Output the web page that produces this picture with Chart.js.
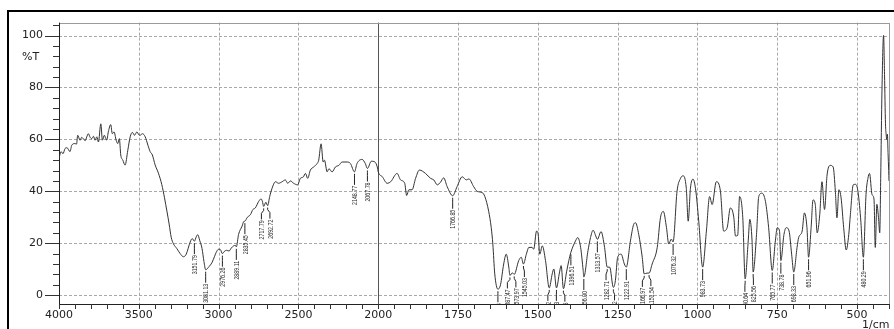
<!DOCTYPE html>
<html>
<head>
<meta charset="utf-8">
<script src="https://cdn.jsdelivr.net/npm/chart.js@4/dist/chart.umd.min.js"></script>
<style>
  html, body { margin: 0; padding: 0; background: #fff; }
  #wrap { width: 894px; height: 329px; position: relative; }
  canvas { display: block; }
</style>
</head>
<body>
<div id="wrap"><canvas id="spectrum" width="894" height="329"></canvas></div>
<script>
// IR transmittance spectrum, wavenumber in 1/cm (descending) and %T
const wavenumber = [
  4000, 3987, 3975, 3962, 3950, 3931, 3920, 3900, 3890, 3883, 3868, 3858, 3848, 3836, 3826, 3816,
  3805, 3795, 3784, 3774, 3763, 3753, 3738, 3728, 3716, 3708, 3701, 3691, 3676, 3666, 3655, 3642,
  3632, 3622, 3613, 3600, 3586, 3569, 3554, 3540, 3527, 3512, 3500, 3492, 3477, 3460, 3443, 3429,
  3415, 3398, 3377, 3356, 3339, 3324, 3310, 3297, 3283, 3261, 3241, 3220, 3203, 3178, 3165, 3151.79,
  3140, 3131, 3118, 3104, 3092, 3081.13, 3060, 3042, 3025, 3015, 3000, 2988, 2976.26, 2965, 2950, 2935,
  2920, 2906, 2895, 2889.11, 2875, 2853, 2842, 2835.45, 2820, 2801, 2785, 2770, 2749, 2734, 2726, 2717.79,
  2704, 2692.72, 2680, 2665, 2644, 2624, 2602, 2582, 2567, 2550, 2530, 2505, 2488, 2470, 2456, 2442,
  2425, 2404, 2383, 2373, 2358, 2345, 2337, 2320, 2309, 2289, 2268, 2247, 2226, 2195, 2174, 2148.77,
  2133, 2101, 2081, 2067.78, 2043, 2021, 2006, 2000, 1987, 1972, 1961, 1941, 1930, 1917, 1911, 1904,
  1894, 1883, 1871, 1852, 1836, 1826, 1815, 1805, 1795, 1784, 1766.85, 1753, 1737, 1724, 1716, 1701,
  1690, 1674, 1666, 1654, 1646, 1641, 1635, 1625.08, 1617, 1607, 1599, 1591, 1587.47, 1580, 1573.97, 1560,
  1552, 1545.03, 1536, 1528, 1518, 1513, 1504, 1499, 1494, 1486, 1476, 1464.32, 1455, 1450, 1441.73, 1432,
  1427, 1419.88, 1410, 1403, 1396.51, 1382, 1375, 1366, 1358, 1356.00, 1343, 1335, 1327, 1316, 1313.57, 1302,
  1291, 1282.71, 1275, 1263.42, 1257, 1250, 1239, 1229, 1222.91, 1210, 1200, 1194, 1184, 1173, 1166.97, 1158,
  1151.54, 1142, 1126, 1116, 1107, 1097, 1090, 1082, 1076.32, 1064, 1053, 1045, 1035, 1029, 1022, 1014,
  1006, 996, 983.73, 972, 962, 954, 941, 928, 918, 907, 897, 886, 881, 874, 868, 858,
  850.64, 841, 836, 829, 825.56, 815, 808, 798, 787, 777, 765.77, 756, 750, 743, 738.78, 729,
  722, 713, 705, 698.33, 688, 683, 672, 665, 657, 651.96, 644, 638, 631, 625, 617, 610,
  602, 594, 584, 575, 568, 563, 557, 550, 542, 534, 526, 521, 512, 505, 498, 489,
  480.29, 472, 466, 461, 453, 447, 443, 438, 433, 429, 426, 422, 417, 414, 411, 409,
  407, 405, 403, 401, 400
];
const transmittance = [
  52.6, 55.3, 54.5, 56.5, 56.8, 55.3, 57.8, 58.4, 58.2, 61.6, 59.7, 60.8, 60.3, 59.5, 61.0, 62.2,
  60.8, 60.3, 61.2, 59.7, 61.0, 59.0, 66.0, 59.7, 61.6, 60.5, 59.7, 62.9, 65.7, 62.2, 62.9, 59.7,
  58.4, 60.3, 54.0, 52.0, 50.1, 55.8, 61.0, 62.7, 61.6, 62.9, 61.8, 61.6, 62.2, 61.0, 57.8, 55.3,
  54.0, 50.2, 47.0, 42.6, 37.5, 32.4, 27.4, 22.3, 19.8, 17.9, 16.0, 14.8, 15.8, 20.5, 21.8, 20.8,
  22.5, 23.3, 21.0, 18.0, 13.0, 9.8, 11.0, 12.5, 15.0, 16.5, 17.7, 17.5, 16.0, 16.8, 17.3, 17.0,
  18.2, 19.0, 19.2, 18.6, 23.4, 26.6, 28.4, 28.5, 30.0, 31.0, 33.0, 33.6, 36.1, 37.1, 36.2, 34.2,
  35.8, 34.5, 38.0, 41.2, 43.7, 43.1, 43.7, 44.4, 43.1, 44.0, 43.1, 42.5, 45.0, 45.5, 46.9, 45.0,
  48.2, 49.4, 50.7, 52.0, 58.3, 51.3, 52.0, 47.5, 48.7, 47.5, 49.4, 50.0, 51.3, 51.3, 50.7, 47.5,
  50.7, 52.3, 50.7, 48.8, 51.6, 51.3, 49.4, 47.5, 45.6, 43.1, 43.7, 46.9, 44.4, 43.1, 38.4, 40.6,
  40.6, 45.0, 48.2, 46.9, 45.0, 44.4, 42.5, 43.5, 45.2, 41.8, 38.3, 41.8, 45.6, 44.4, 44.8, 41.8,
  40.0, 39.5, 38.0, 32.3, 26.0, 19.7, 8.2, 2.3, 4.0, 12.0, 15.8, 10.8, 7.6, 8.6, 8.0, 13.3,
  14.6, 12.0, 15.8, 18.4, 18.4, 17.7, 24.7, 23.4, 15.8, 19.0, 13.3, 2.8, 8.2, 10.1, 2.8, 8.9,
  11.4, 2.5, 9.0, 13.3, 16.5, 20.9, 22.2, 18.4, 9.5, 7.0, 17.1, 22.2, 25.0, 22.0, 21.5, 24.5,
  18.4, 10.8, 10.8, 3.0, 5.7, 14.6, 15.8, 12.0, 10.8, 20.9, 27.2, 27.9, 23.4, 14.6, 8.2, 8.5,
  8.5, 12.0, 18.4, 29.8, 32.3, 26.0, 19.7, 21.6, 20.5, 40.0, 45.0, 46.0, 41.2, 28.5, 41.2, 44.7,
  41.0, 28.5, 10.8, 24.7, 38.0, 34.9, 43.7, 40.0, 24.7, 26.0, 33.6, 29.8, 22.8, 23.0, 38.0, 29.8,
  6.3, 20.9, 29.2, 20.9, 8.9, 23.4, 38.0, 39.3, 36.1, 26.0, 9.5, 20.9, 26.0, 24.7, 13.3, 23.4,
  26.0, 24.7, 15.8, 8.9, 18.4, 22.2, 24.7, 31.7, 26.0, 14.6, 26.0, 36.7, 35.0, 24.0, 31.0, 43.7,
  33.0, 46.3, 50.0, 49.4, 40.0, 29.8, 40.6, 37.4, 26.0, 17.4, 23.4, 31.0, 42.5, 42.7, 40.6, 29.8,
  14.6, 38.7, 45.0, 46.9, 38.7, 37.0, 18.4, 35.0, 30.0, 24.0, 45.0, 79.0, 100.1, 85.0, 66.0, 62.0,
  60.0, 62.0, 55.0, 48.0, 44.0
];
// Band positions that carry a value label
const peakWavenumbers = [
  3151.79, 3081.13, 2976.26, 2889.11, 2835.45, 2717.79, 2692.72, 2148.77, 2067.78, 1766.85,
  1625.08, 1587.47, 1573.97, 1545.03, 1464.32, 1441.73, 1419.88, 1396.51, 1356.00, 1313.57,
  1282.71, 1263.42, 1222.91, 1166.97, 1151.54, 1076.32, 983.73, 850.64, 825.56, 765.77,
  738.78, 698.33, 651.96, 480.29
];
const xTickLabels = [4000, 3500, 3000, 2500, 2000, 1750, 1500, 1250, 1000, 750, 500];
const yTickLabels = [0, 20, 40, 60, 80, 100];
const yAxisTitle = '%T';
const xAxisTitle = '1/cm';

// Wavenumber axis: 4000-2000 compressed, 2000-400 expanded twofold.
const BREAK = 2000, HI = 4000, LO = 400, SPAN = (HI - BREAK) + 2 * (BREAK - LO);
class SpectrumScale extends Chart.LinearScale {
  getPixelForValue(value) {
    if (value === null || value === undefined || isNaN(value)) return NaN;
    const u = value >= BREAK ? (HI - value) : (HI - BREAK) + 2 * (BREAK - value);
    return this.getPixelForDecimal(u / SPAN);
  }
  getValueForPixel(pixel) {
    const u = this.getDecimalForPixel(pixel) * SPAN;
    return u <= HI - BREAK ? HI - u : BREAK - (u - (HI - BREAK)) / 2;
  }
}
SpectrumScale.id = 'spectrum';
SpectrumScale.defaults = Chart.LinearScale.defaults;
Chart.register(SpectrumScale);

const FONT = '"DejaVu Sans", sans-serif';

const framePlugin = {
  id: 'frame',
  beforeDatasetsDraw(chart) {
    const { ctx, chartArea: a, scales: { x, y } } = chart;
    ctx.save();
    // outer frame
    ctx.fillStyle = '#000';
    ctx.fillRect(7, 10, 887, 2);
    ctx.fillRect(7, 10, 2, 319);
    // dashed grid
    ctx.strokeStyle = '#a8a8a8';
    ctx.lineWidth = 1;
    ctx.setLineDash([3, 2]);
    ctx.beginPath();
    yTickLabels.forEach(v => {
      const py = Math.round(y.getPixelForValue(v)) + 0.5;
      ctx.moveTo(a.left, py); ctx.lineTo(a.right, py);
    });
    xTickLabels.forEach(v => {
      if (v === BREAK || v === HI) return;
      const px = Math.round(x.getPixelForValue(v)) + 0.5;
      ctx.moveTo(px, a.top); ctx.lineTo(px, a.bottom);
    });
    ctx.stroke();
    ctx.setLineDash([]);
    // range-change line
    const pb = Math.round(x.getPixelForValue(BREAK)) + 0.5;
    ctx.strokeStyle = '#555';
    ctx.beginPath(); ctx.moveTo(pb, a.top); ctx.lineTo(pb, a.bottom); ctx.stroke();
    // plot border
    ctx.strokeStyle = '#9a9a9a';
    ctx.strokeRect(Math.round(a.left) + 0.5, Math.round(a.top) + 0.5, Math.round(a.width), Math.round(a.height));
    ctx.strokeStyle = '#222';
    ctx.beginPath();
    ctx.moveTo(Math.round(a.left) + 0.5, a.top); ctx.lineTo(Math.round(a.left) + 0.5, a.bottom + 0.5);
    ctx.lineTo(a.right, Math.round(a.bottom) + 0.5);
    ctx.stroke();
    // x tick marks: 100 steps above 2000, 50 below
    ctx.strokeStyle = '#333';
    ctx.beginPath();
    for (let v = HI; v >= LO; v -= (v > BREAK ? 100 : 50)) {
      const px = Math.round(x.getPixelForValue(v)) + 0.5;
      ctx.moveTo(px, a.bottom); ctx.lineTo(px, a.bottom + 5);
    }
    // y tick marks: every 4 %T, longer at labelled values
    for (let v = 0; v <= 104; v += 4) {
      const py = Math.round(y.getPixelForValue(v)) + 0.5;
      const len = v % 20 === 0 ? 14 : 6;
      ctx.moveTo(a.left - len, py); ctx.lineTo(a.left, py);
    }
    ctx.stroke();
    // axis titles
    ctx.fillStyle = '#222';
    ctx.font = '11px ' + FONT;
    ctx.textBaseline = 'middle';
    ctx.textAlign = 'left';
    ctx.fillText(yAxisTitle, 22, 57);
    ctx.fillText(xAxisTitle, 862, 325);
    ctx.restore();
  },
  afterDatasetsDraw(chart) {
    const { ctx, chartArea: a, scales: { x, y } } = chart;
    const items = peakWavenumbers.map(w => {
      const i = wavenumber.indexOf(w);
      const px = x.getPixelForValue(w);
      return { text: w.toFixed(2), px, lx: px, py: y.getPixelForValue(transmittance[i]) };
    }).sort((p, q) => p.px - q.px);
    // spread crowded labels sideways
    const sep = 8.5;
    for (let it = 0; it < 60; it++) {
      for (let k = 1; k < items.length; k++) {
        const p = items[k - 1], q = items[k];
        const d = q.lx - p.lx;
        if (d < sep && Math.abs(q.py - p.py) < 30) {
          const m = (sep - d) / 2; p.lx -= m; q.lx += m;
        }
      }
    }
    ctx.save();
    ctx.beginPath();
    ctx.rect(a.left, a.top, a.width, a.height);
    ctx.clip();
    ctx.strokeStyle = '#222';
    ctx.lineWidth = 1;
    ctx.fillStyle = '#2a2a2a';
    items.forEach(p => {
      const top = p.py + 2;
      ctx.beginPath();
      ctx.moveTo(p.px, top);
      ctx.lineTo(p.px, top + 2);
      ctx.lineTo(p.lx, top + 5);
      ctx.lineTo(p.lx, top + 11);
      ctx.stroke();
      ctx.save();
      ctx.translate(p.lx + 0.5, top + 12);
      ctx.rotate(-Math.PI / 2);
      ctx.scale(0.66, 1);
      ctx.font = '8px "Liberation Sans", sans-serif';
      ctx.textAlign = 'right';
      ctx.textBaseline = 'middle';
      ctx.fillText(p.text, 0, 0);
      ctx.restore();
    });
    ctx.restore();
  }
};

new Chart(document.getElementById('spectrum'), {
  type: 'line',
  data: {
    datasets: [{
      data: wavenumber.map((w, i) => ({ x: w, y: transmittance[i] })),
      borderColor: '#333',
      borderWidth: 1,
      pointRadius: 0,
      cubicInterpolationMode: 'monotone',
      fill: false
    }]
  },
  options: {
    responsive: false,
    animation: false,
    devicePixelRatio: 1,
    layout: { padding: { left: 0, right: 5, top: 19, bottom: 0 } },
    plugins: { legend: { display: false }, tooltip: { enabled: false } },
    scales: {
      x: {
        type: 'spectrum',
        min: LO, max: HI,
        grid: { display: false, drawTicks: false },
        border: { display: false },
        afterFit(s) { s.height = 25; },
        afterBuildTicks(s) { s.ticks = xTickLabels.map(v => ({ value: v })); },
        ticks: {
          autoSkip: false, maxRotation: 0, padding: 5,
          color: '#222', font: { family: FONT, size: 11 },
          callback: v => String(v)
        }
      },
      y: {
        type: 'linear',
        min: -3.4, max: 105,
        grid: { display: false, drawTicks: false },
        border: { display: false },
        afterFit(s) { s.width = 59; },
        afterBuildTicks(s) { s.ticks = yTickLabels.map(v => ({ value: v })); },
        ticks: {
          padding: 16,
          color: '#222', font: { family: FONT, size: 11 },
          callback: v => String(v)
        }
      }
    }
  },
  plugins: [framePlugin]
});
</script>
</body>
</html>
